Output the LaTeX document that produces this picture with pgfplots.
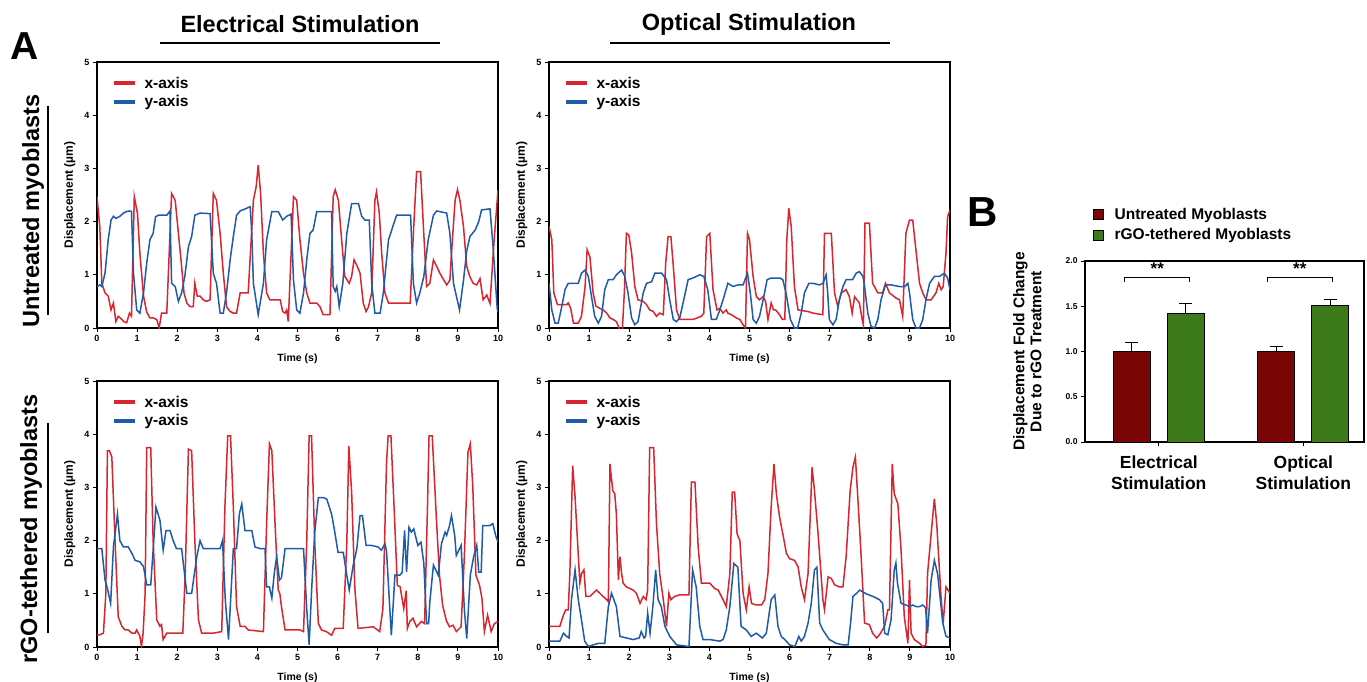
\documentclass[border=0pt]{standalone}
\usepackage{pgfplots}
\pgfplotsset{compat=1.18}
\usepackage{fontspec}
\setmainfont{Liberation Sans}

\definecolor{xred}{HTML}{D7262F}
\definecolor{yblue}{HTML}{1F5BA6}
\definecolor{barred}{HTML}{7A0505}
\definecolor{bargreen}{HTML}{3C7A1A}

\newcommand{\fs}[1]{\fontsize{#1}{#1}\selectfont\bfseries}

\pgfplotsset{
  trace/.style={
    scale only axis, width=401pt, height=266pt,
    xmin=0, xmax=10, ymin=0, ymax=5,
    xtick={0,...,10}, ytick={0,...,5},
    tick align=outside, tick pos=left, major tick length=4pt,
    axis line style={line width=1.6pt},
    every tick/.style={black, line width=1pt},
    tick label style={font=\fs{9}},
    /pgf/number format/assume math mode=true,
    xlabel={Time (s)}, ylabel={Displacement (µm)},
    xlabel style={font=\fs{10.5}, at={(axis description cs:0.5,-0.085)}, anchor=north},
    ylabel style={font=\fs{12}, at={(axis description cs:-0.045,0.5)}, anchor=south},
    legend style={at={(axis description cs:0.037,0.945)}, anchor=north west,
      draw=none, fill=none, inner sep=0pt, font=\fs{15.5},
      row sep=6pt, column sep=8pt, nodes={inner sep=0pt}},
    legend cell align=left,
    legend image code/.code={\draw[##1, line width=3.5pt] (0pt,0pt) -- (21pt,0pt);},
  },
  xline/.style={color=xred, line width=1.5pt},
  yline/.style={color=yblue, line width=1.5pt},
}

\begin{document}
\begin{tikzpicture}
\path[use as bounding box, fill=white] (0,0) rectangle (1367pt,-681pt);

% panel letters, column titles, row labels
\node[font=\fs{39}] at (25pt,-46pt) {A};
\node[font=\fs{42}] at (983pt,-212pt) {B};
\node[font=\fs{23.5}] at (300pt,-24pt) {Electrical Stimulation};
\draw[line width=1.6pt] (160pt,-43pt) -- (440pt,-43pt);
\node[font=\fs{23.5}] at (749pt,-24pt) {Optical Stimulation};
\draw[line width=1.6pt] (610pt,-43pt) -- (890pt,-43pt);
\node[rotate=90, font=\fs{23.5}] at (33pt,-211pt) {Untreated myoblasts};
\draw[line width=1.6pt] (48pt,-106pt) -- (48pt,-315pt);
\node[rotate=90, font=\fs{23.5}] at (31pt,-529pt) {rGO-tethered myoblasts};
\draw[line width=1.6pt] (48pt,-423pt) -- (48pt,-633pt);

% untreated, electrical
\begin{axis}[trace, at={(97pt,-328pt)}, anchor=south west]
\addplot[xline] coordinates {(0,2.47)(0.07,1.9)(0.12,0.84)(0.2,0.66)(0.28,0.6)(0.35,0.34)(0.41,0.47)(0.47,0.12)(0.53,0.22)(0.62,0.16)(0.67,0.12)(0.74,0.1)(0.81,0.28)(0.86,0.22)(0.93,2.47)(1.01,2.15)(1.07,1.4)(1.16,0.6)(1.24,0.3)(1.32,0.19)(1.4,0.19)(1.49,0.16)(1.55,0)(1.61,0.28)(1.74,0.28)(1.86,2.53)(1.95,2.4)(2.03,1.78)(2.11,1.16)(2.17,0.66)(2.24,0.47)(2.32,0.4)(2.4,0.4)(2.44,0.84)(2.5,0.6)(2.57,0.6)(2.65,0.53)(2.73,0.5)(2.82,0.53)(2.9,2.53)(2.98,2.4)(3.07,1.78)(3.15,1.03)(3.23,0.4)(3.32,0.31)(3.4,0.28)(3.48,0.28)(3.57,0.66)(3.77,0.66)(3.9,2.4)(3.97,2.66)(4.02,3.06)(4.08,2.53)(4.15,1.4)(4.23,0.66)(4.31,0.53)(4.57,0.53)(4.63,0.31)(4.69,0.28)(4.73,0.34)(4.77,0.12)(4.9,2.47)(4.98,2.4)(5.06,1.66)(5.15,1.03)(5.23,0.66)(5.31,0.47)(5.48,0.47)(5.56,0.4)(5.64,0.25)(5.81,0.25)(5.89,2.47)(5.94,2.6)(6.02,2.4)(6.1,1.66)(6.18,0.97)(6.29,0.84)(6.35,0.97)(6.41,1.28)(6.49,1.16)(6.56,1.03)(6.64,0.47)(6.71,0.31)(6.77,0.4)(6.85,0.66)(6.93,2.4)(6.97,2.56)(7.04,2.15)(7.1,1.4)(7.18,0.66)(7.27,0.47)(7.81,0.47)(7.89,1.78)(7.97,2.94)(8.07,2.94)(8.14,1.9)(8.22,0.78)(8.3,0.84)(8.39,1.28)(8.47,1.16)(8.55,1.03)(8.72,0.81)(8.8,0.9)(8.84,1.4)(8.93,2.4)(8.99,2.6)(9.05,2.4)(9.14,1.9)(9.22,1.16)(9.3,0.96)(9.38,0.84)(9.47,0.81)(9.55,0.93)(9.63,0.53)(9.72,0.62)(9.8,0.46)(9.9,1.62)(10,2.59)};
\addplot[yline] coordinates {(0,0.78)(0.07,0.81)(0.12,0.78)(0.2,1.03)(0.28,1.66)(0.35,2.03)(0.41,2.1)(0.47,2.06)(0.57,2.1)(0.66,2.16)(0.74,2.19)(0.82,2.2)(0.86,2.19)(0.91,1.03)(0.99,0.34)(1.07,0.28)(1.16,0.66)(1.24,1.22)(1.32,1.66)(1.4,1.78)(1.46,2.09)(1.53,2.12)(1.74,2.12)(1.78,2.16)(1.82,2.2)(1.86,0.84)(1.95,0.78)(2.03,0.5)(2.11,0.66)(2.19,0.97)(2.28,1.53)(2.36,1.72)(2.44,2.12)(2.57,2.16)(2.82,2.15)(2.9,1.03)(2.98,0.84)(3.07,0.28)(3.15,0.28)(3.23,0.66)(3.32,1.28)(3.4,1.72)(3.48,2.12)(3.57,2.2)(3.73,2.25)(3.82,2.28)(3.86,1.78)(3.9,0.84)(4.02,0.25)(4.15,0.84)(4.23,1.66)(4.36,2.19)(4.52,2.19)(4.63,2.03)(4.73,2.1)(4.84,2.14)(4.9,0.9)(4.98,0.34)(5.06,0.28)(5.15,0.66)(5.23,1.28)(5.31,1.78)(5.39,1.84)(5.48,2.19)(5.85,2.19)(5.89,0.78)(5.94,0.69)(5.98,0.78)(6.04,0.4)(6.13,0.84)(6.23,1.78)(6.35,2.34)(6.52,2.34)(6.6,2.1)(6.68,2.03)(6.79,2.03)(6.85,0.84)(6.93,0.28)(7.06,0.28)(7.14,0.66)(7.27,1.66)(7.47,2.12)(7.82,2.12)(7.89,0.84)(7.97,0.47)(8.05,0.66)(8.15,0.97)(8.26,1.66)(8.39,2.12)(8.47,2.2)(8.72,2.16)(8.8,1.78)(8.89,0.84)(9.04,0.34)(9.14,0.9)(9.22,1.45)(9.3,1.72)(9.43,1.84)(9.52,2.0)(9.59,2.22)(9.8,2.24)(9.88,1.5)(9.98,0.37)(10,0.3)};
\legend{x-axis,y-axis}
\end{axis}

% untreated, optical
\begin{axis}[trace, at={(549pt,-328pt)}, anchor=south west]
\addplot[xline] coordinates {(0,1.91)(0.07,1.66)(0.12,0.66)(0.21,0.44)(0.44,0.44)(0.48,0.47)(0.54,0.37)(0.61,0.09)(0.73,0.09)(0.81,0.22)(0.9,0.78)(0.95,1.47)(1.02,1.34)(1.1,0.66)(1.17,0.41)(1.27,0.37)(1.35,0.34)(1.44,0.28)(1.52,0.19)(1.6,0.16)(1.68,0.12)(1.75,0)(1.81,-0.3)(1.88,0.69)(1.93,1.78)(1.99,1.75)(2.06,1.41)(2.14,0.78)(2.22,0.53)(2.35,0.5)(2.43,0.44)(2.51,0.34)(2.6,0.31)(2.68,0.22)(2.76,0.28)(2.85,0.25)(2.91,1.22)(2.97,1.72)(3.04,1.72)(3.1,1.16)(3.18,0.34)(3.26,0.16)(3.59,0.16)(3.8,0.22)(3.86,0.28)(3.93,1.72)(4.01,1.78)(4.09,0.72)(4.19,0.34)(4.26,0.37)(4.34,0.28)(4.42,0.34)(4.46,0.28)(4.55,0.25)(4.67,0.19)(4.76,0.16)(4.84,0.06)(4.9,0)(4.95,1.78)(5.0,1.66)(5.09,0.97)(5.17,0.59)(5.25,0.53)(5.34,0.59)(5.4,0.5)(5.46,0.16)(5.54,0.47)(5.6,0.34)(5.65,0.34)(5.75,0.25)(5.82,0.16)(5.88,0.16)(5.93,1.66)(5.98,2.25)(6.04,1.91)(6.12,0.78)(6.21,0.34)(6.46,0.31)(6.58,0.28)(6.83,0.25)(6.87,1.78)(7.04,1.78)(7.12,0.66)(7.2,0.41)(7.29,0.66)(7.41,0.72)(7.49,0.59)(7.56,0.28)(7.62,0.59)(7.74,0.47)(7.81,0.16)(7.84,0.06)(7.88,1.97)(7.99,1.97)(8.07,0.84)(8.2,0.66)(8.32,0.66)(8.39,0.84)(8.49,0.66)(8.66,0.56)(8.74,0.53)(8.82,0.22)(8.9,1.78)(8.99,2.03)(9.07,2.03)(9.15,1.47)(9.24,0.84)(9.32,0.66)(9.4,0.53)(9.53,0.53)(9.65,0.66)(9.72,0.84)(9.78,0.72)(9.83,0.78)(9.9,1.41)(9.94,2.09)(10,2.22)};
\addplot[yline] coordinates {(0,0.84)(0.07,0.34)(0.15,0.09)(0.23,0.09)(0.32,0.41)(0.4,0.72)(0.48,0.84)(0.73,0.84)(0.81,1.03)(0.9,1.09)(0.98,0.97)(1.06,0.59)(1.14,0.22)(1.23,0.09)(1.31,0.22)(1.39,0.72)(1.48,0.91)(1.6,0.91)(1.68,1.0)(1.81,1.09)(1.89,0.97)(1.97,0.66)(2.06,0.19)(2.14,0.06)(2.22,0.12)(2.35,0.66)(2.43,0.84)(2.56,0.87)(2.64,1.03)(2.81,1.03)(2.93,0.91)(3.01,0.53)(3.1,0.16)(3.18,0.12)(3.26,0.19)(3.36,0.53)(3.47,0.91)(3.59,0.94)(3.76,1.0)(3.86,0.97)(3.96,0.72)(4.05,0.16)(4.17,0.16)(4.26,0.34)(4.34,0.53)(4.46,0.84)(4.59,0.78)(4.71,0.81)(4.84,0.81)(4.95,1.03)(5.02,0.66)(5.09,0.16)(5.17,0.09)(5.25,0.22)(5.34,0.53)(5.44,0.91)(5.54,0.94)(5.75,0.94)(5.83,0.91)(5.91,0.66)(6.02,0.16)(6.12,0)(6.2,0)(6.29,0.28)(6.37,0.66)(6.48,0.84)(6.58,0.84)(6.75,0.81)(6.83,0.84)(6.91,1.0)(6.95,0.66)(6.99,0.16)(7.08,0.06)(7.16,0.16)(7.24,0.53)(7.33,0.78)(7.41,0.91)(7.57,0.91)(7.66,1.03)(7.74,1.06)(7.83,0.97)(7.87,0.78)(7.95,0.28)(8.03,0.03)(8.12,0)(8.2,0.16)(8.28,0.53)(8.39,0.81)(8.53,0.81)(8.74,0.78)(8.87,0.78)(8.95,0.84)(8.99,0.66)(9.07,0.16)(9.15,0)(9.24,0)(9.32,0.16)(9.4,0.53)(9.49,0.84)(9.61,0.97)(9.74,0.97)(9.86,1.03)(9.94,0.94)(10,0.72)};
\legend{x-axis,y-axis}
\end{axis}

% rGO-tethered, electrical
\begin{axis}[trace, at={(97pt,-647pt)}, anchor=south west]
\addplot[xline] coordinates {(0,0.23)(0.07,0.23)(0.16,0.26)(0.22,1.0)(0.26,3.69)(0.31,3.69)(0.37,3.57)(0.45,2.0)(0.53,0.57)(0.62,0.39)(0.7,0.32)(0.78,0.32)(0.87,0.26)(0.95,0.26)(0.99,0.32)(1.07,0.2)(1.11,0.01)(1.15,0.26)(1.2,1.0)(1.24,3.75)(1.34,3.75)(1.4,2.0)(1.49,0.51)(1.57,0.39)(1.61,0.42)(1.65,0.14)(1.74,0.26)(1.9,0.26)(2.14,0.26)(2.2,1.38)(2.28,3.72)(2.36,3.69)(2.44,2.0)(2.53,0.51)(2.61,0.26)(2.9,0.26)(3.11,0.29)(3.19,2.63)(3.26,3.97)(3.33,3.97)(3.4,2.63)(3.48,0.76)(3.57,0.39)(3.69,0.39)(3.77,0.32)(4.15,0.29)(4.23,2.32)(4.3,3.82)(4.36,3.69)(4.44,2.32)(4.52,1.07)(4.56,1.0)(4.6,0.76)(4.69,0.32)(5.06,0.32)(5.15,0.29)(5.23,1.97)(5.29,3.97)(5.35,3.97)(5.43,1.97)(5.52,0.44)(5.6,0.32)(5.72,0.29)(5.85,0.22)(5.93,0.35)(6.14,0.35)(6.23,1.97)(6.28,3.78)(6.35,2.91)(6.43,1.1)(6.51,0.35)(6.89,0.38)(7.05,0.29)(7.13,0.72)(7.22,3.47)(7.26,3.97)(7.33,3.97)(7.41,2.6)(7.49,1.16)(7.56,1.13)(7.65,0.72)(7.71,1.06)(7.74,0.35)(7.8,0.48)(7.88,0.54)(7.97,0.38)(8.09,0.48)(8.17,0.44)(8.24,2.6)(8.28,3.97)(8.36,3.97)(8.46,2.47)(8.54,1.35)(8.62,0.78)(8.71,0.5)(8.79,0.38)(8.88,0.41)(8.96,0.29)(9.08,0.38)(9.16,1.69)(9.25,3.66)(9.31,3.82)(9.37,3.03)(9.45,1.35)(9.54,1.16)(9.6,0.91)(9.66,0.29)(9.74,0.6)(9.83,0.29)(9.91,0.44)(10,0.48)};
\addplot[yline] coordinates {(0,1.85)(0.12,1.85)(0.2,1.26)(0.26,1.1)(0.34,0.82)(0.41,1.88)(0.51,2.5)(0.57,2.0)(0.66,1.88)(0.78,1.88)(0.87,1.76)(0.95,1.63)(1.07,1.6)(1.16,1.51)(1.24,1.17)(1.34,1.17)(1.4,1.82)(1.47,2.63)(1.57,2.38)(1.65,1.82)(1.72,2.19)(1.82,2.19)(1.9,2.0)(1.98,1.85)(2.11,1.85)(2.24,1.01)(2.36,1.01)(2.49,1.7)(2.57,2.0)(2.65,1.85)(3.07,1.85)(3.13,2.0)(3.2,0.88)(3.28,0.14)(3.4,1.85)(3.48,1.85)(3.55,2.5)(3.61,2.69)(3.69,2.19)(3.86,2.19)(3.94,1.88)(4.07,1.85)(4.19,1.85)(4.23,1.13)(4.3,1.13)(4.36,0.92)(4.42,1.38)(4.48,1.7)(4.55,1.26)(4.6,1.3)(4.69,1.85)(5.15,1.85)(5.23,0.72)(5.29,0.04)(5.35,1.04)(5.43,2.16)(5.52,2.81)(5.64,2.81)(5.73,2.78)(5.85,2.5)(5.93,2.16)(6.01,1.78)(6.14,1.78)(6.23,1.35)(6.29,1.07)(6.39,1.54)(6.48,1.85)(6.56,2.47)(6.62,2.47)(6.71,1.91)(6.85,1.91)(7.01,1.88)(7.09,1.82)(7.18,1.94)(7.22,1.8)(7.34,0.22)(7.43,1.35)(7.55,1.35)(7.61,1.4)(7.67,2.19)(7.72,1.41)(7.78,2.25)(7.84,2.16)(7.9,2.22)(8.0,1.91)(8.08,1.97)(8.15,1.57)(8.22,0.44)(8.27,0.44)(8.3,0.85)(8.39,1.54)(8.51,1.35)(8.59,1.94)(8.68,2.16)(8.72,2.1)(8.79,2.28)(8.84,2.47)(8.92,2.1)(8.96,1.72)(9.08,1.91)(9.16,0.72)(9.22,0.16)(9.31,1.35)(9.39,1.69)(9.47,1.91)(9.52,1.41)(9.58,1.41)(9.62,2.28)(9.79,2.28)(9.87,2.32)(9.94,2.1)(10,1.97)};
\legend{x-axis,y-axis}
\end{axis}

% rGO-tethered, optical
\begin{axis}[trace, at={(549pt,-647pt)}, anchor=south west]
\addplot[xline] coordinates {(0,0.39)(0.27,0.39)(0.36,0.6)(0.42,0.7)(0.48,0.7)(0.52,1.38)(0.59,3.41)(0.65,2.82)(0.71,2.0)(0.77,1.2)(0.81,1.38)(0.87,1.45)(0.92,0.95)(1.02,0.95)(1.1,1.01)(1.18,1.07)(1.27,1.01)(1.35,0.95)(1.44,0.89)(1.48,0.85)(1.52,3.44)(1.59,2.94)(1.64,2.88)(1.68,2.5)(1.73,1.26)(1.77,1.7)(1.81,1.38)(1.85,1.2)(1.93,1.13)(2.1,1.07)(2.18,1.01)(2.27,0.82)(2.35,0.95)(2.42,0.89)(2.46,1.07)(2.51,3.75)(2.61,3.75)(2.68,2.32)(2.76,1.38)(2.85,0.89)(2.93,0.39)(2.99,1.01)(3.04,0.89)(3.13,0.95)(3.26,0.98)(3.49,0.98)(3.55,3.1)(3.64,3.1)(3.72,1.88)(3.8,1.2)(4.01,1.2)(4.13,1.1)(4.22,1.07)(4.34,0.89)(4.42,0.76)(4.51,1.38)(4.57,2.91)(4.63,2.91)(4.69,2.13)(4.76,2.0)(4.84,1.01)(4.92,0.7)(4.99,1.13)(5.05,0.82)(5.17,0.79)(5.3,0.79)(5.38,0.89)(5.46,1.38)(5.54,2.63)(5.61,3.44)(5.67,2.88)(5.75,2.44)(5.83,2.13)(5.92,1.76)(6.0,1.66)(6.12,1.63)(6.21,1.51)(6.29,1.13)(6.37,0.89)(6.46,1.38)(6.56,3.38)(6.62,2.94)(6.71,2.13)(6.83,0.89)(6.87,0.7)(6.96,1.32)(7.04,1.29)(7.12,1.17)(7.24,1.13)(7.33,1.13)(7.41,1.7)(7.51,2.94)(7.58,3.38)(7.64,3.57)(7.7,2.82)(7.78,1.76)(7.87,0.45)(7.99,0.42)(8.07,0.26)(8.17,0.17)(8.24,0.23)(8.37,0.39)(8.45,0.7)(8.49,0.7)(8.56,3.44)(8.61,2.88)(8.7,2.69)(8.78,1.82)(8.86,0.57)(8.95,0.07)(8.99,1.26)(9.03,0.26)(9.11,0.14)(9.24,0.07)(9.32,0.01)(9.4,0.04)(9.44,1.38)(9.53,2.13)(9.61,2.79)(9.67,2.3)(9.78,0.89)(9.83,0.45)(9.9,1.13)(10,1.01)};
\addplot[yline] coordinates {(0,0.11)(0.27,0.11)(0.36,0.26)(0.44,0.2)(0.5,0.17)(0.56,0.89)(0.65,1.45)(0.73,0.89)(0.81,0.51)(0.89,0.11)(0.98,0.01)(1.1,0.04)(1.23,0.07)(1.39,0.07)(1.48,0.76)(1.56,1.01)(1.68,0.76)(1.77,0.2)(1.93,0.17)(2.1,0.14)(2.25,0.17)(2.3,0.29)(2.37,0.17)(2.41,0.2)(2.46,0.64)(2.52,0.26)(2.59,0.76)(2.66,1.45)(2.72,0.89)(2.8,0.76)(2.89,0.39)(3.01,0.2)(3.18,0.04)(3.49,0.01)(3.58,1.45)(3.67,1.13)(3.76,0.39)(3.84,0.14)(4.01,0.14)(4.26,0.11)(4.34,0.14)(4.42,0.32)(4.51,0.76)(4.61,1.57)(4.71,1.5)(4.79,0.39)(4.92,0.32)(5.04,0.2)(5.17,0.26)(5.32,0.17)(5.42,0.26)(5.54,0.89)(5.63,0.98)(5.71,0.39)(5.79,0.2)(5.88,0.14)(6.0,0.04)(6.13,0.01)(6.23,0.2)(6.29,0.11)(6.37,0.2)(6.46,0.45)(6.54,0.82)(6.62,1.45)(6.68,1.5)(6.75,0.45)(6.83,0.32)(6.99,0.14)(7.16,0.07)(7.33,0.04)(7.46,0.04)(7.52,0.45)(7.58,0.95)(7.67,1.01)(7.75,1.07)(7.91,1.0)(8.08,0.95)(8.24,0.89)(8.32,0.82)(8.37,0.26)(8.45,0.23)(8.53,0.51)(8.61,1.45)(8.65,1.58)(8.69,1.2)(8.78,0.82)(8.9,0.79)(8.99,0.76)(9.07,0.79)(9.15,0.76)(9.24,0.76)(9.32,0.79)(9.39,0.74)(9.44,0.26)(9.53,1.26)(9.61,1.63)(9.69,1.38)(9.82,0.45)(9.9,0.2)(10,0.17)};
\legend{x-axis,y-axis}
\end{axis}

% fold change bars
\begin{axis}[at={(1085pt,-442pt)}, anchor=south west, scale only axis,
  width=279pt, height=181pt,
  xmin=0.49, xmax=2.42, ymin=0, ymax=2,
  ytick={0,0.5,...,2},
  yticklabel style={font=\fs{8.5}, /pgf/number format/fixed,
    /pgf/number format/fixed zerofill, /pgf/number format/precision=1},
  xtick={1,2},
  xticklabels={{Electrical\\Stimulation},{Optical\\Stimulation}},
  xticklabel style={align=center, font=\fontsize{17.5}{21}\selectfont\bfseries, yshift=-6pt},
  /pgf/number format/assume math mode=true,
  tick align=outside, tick pos=left, major tick length=4pt,
  every tick/.style={black, line width=1pt},
  axis line style={line width=1.6pt},
  ylabel={Displacement Fold Change\\Due to rGO Treatment},
  ylabel style={align=center, font=\fontsize{15.5}{17}\selectfont\bfseries, at={(axis description cs:-0.207,0.5)}, anchor=center},
  ybar, bar width=0.255, bar shift=0pt, clip=false,
  legend style={at={(axis description cs:0.028,1.295)}, anchor=north west,
    draw=none, fill=none, inner sep=0pt, font=\fs{15.5},
    row sep=8pt, column sep=11pt, nodes={inner sep=0pt}},
  legend cell align=left,
  legend image code/.code={\draw[#1, line width=0.6pt] (0pt,-5pt) rectangle (10pt,5pt);},
]
\addplot[fill=barred, draw=black, line width=1pt,
  error bars/.cd, y dir=plus, y explicit,
  error bar style={line width=1pt, black},
  error mark options={rotate=90, mark size=6.5pt, line width=1pt, black}]
  coordinates {(0.814,1.0) +- (0,0.10) (1.814,1.0) +- (0,0.06)};
\addplot[fill=bargreen, draw=black, line width=1pt,
  error bars/.cd, y dir=plus, y explicit,
  error bar style={line width=1pt, black},
  error mark options={rotate=90, mark size=6.5pt, line width=1pt, black}]
  coordinates {(1.186,1.42) +- (0,0.11) (2.186,1.51) +- (0,0.07)};
\legend{Untreated Myoblasts, rGO-tethered Myoblasts}
\draw[line width=1pt] (axis cs:0.766,1.77) -- (axis cs:0.766,1.82) -- (axis cs:1.214,1.82) -- (axis cs:1.214,1.77);
\draw[line width=1pt] (axis cs:1.752,1.77) -- (axis cs:1.752,1.82) -- (axis cs:2.2,1.82) -- (axis cs:2.2,1.77);
\node[font=\fs{17}] at (axis cs:0.99,1.92) {**};
\node[font=\fs{17}] at (axis cs:1.976,1.92) {**};
\end{axis}
\end{tikzpicture}
\end{document}
